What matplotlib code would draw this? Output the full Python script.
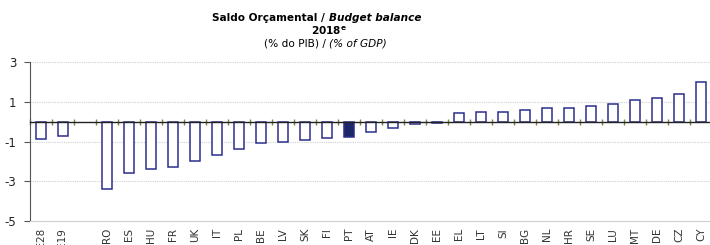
import numpy as np
import matplotlib
matplotlib.use('Agg')
import matplotlib.pyplot as plt
from matplotlib.ticker import FixedLocator

# 2018 budget balance, % of GDP
labels = ['UE28', 'AE19',
          'RO', 'ES', 'HU', 'FR', 'UK', 'IT', 'PL', 'BE', 'LV', 'SK', 'FI', 'PT',
          'AT', 'IE', 'DK', 'EE', 'EL', 'LT', 'SI', 'BG', 'NL', 'HR', 'SE', 'LU',
          'MT', 'DE', 'CZ', 'CY']
values = [-0.85, -0.7,
          -3.4, -2.6, -2.4, -2.3, -2.0, -1.7, -1.4, -1.1, -1.05, -0.9, -0.8, -0.78,
          -0.5, -0.3, -0.1, -0.05, 0.45, 0.5, 0.5, 0.6, 0.7, 0.7, 0.8, 0.9,
          1.1, 1.2, 1.4, 2.0]
highlight = 'PT'
yticks = [3, 1, -1, -3, -5]

edge = '#2b2f8c'
fill_hi = '#1c2768'

n = len(labels)
# one empty slot between the aggregates and the countries
pos = np.arange(n) + (np.arange(n) >= 2)

fig = plt.figure(figsize=(7.1, 2.45), dpi=100)
ax = fig.add_axes([30 / 710, 24 / 245, 680 / 710, 159 / 245])

# zero line with small boundary ticks, using the top spine
# (set before tick labels: moving a spine resets the ticks)
ax.spines['top'].set_position(('data', 0))
ax.spines['top'].set_color('#222222')
ax.spines['top'].set_linewidth(1.0)
ax.spines['top'].set_zorder(4)
ax.spines['bottom'].set_color('#d0d0d0')
ax.spines['right'].set_visible(False)
ax.spines['left'].set_color('#555555')

faces = [fill_hi if l == highlight else 'white' for l in labels]
ax.bar(pos, values, width=0.44, color=faces, edgecolor=edge, linewidth=1.1, zorder=3)

ax.set_ylim(-5, 3)
ax.set_xlim(-0.5, -0.5 + 680 / 22)
ax.set_yticks(yticks)
ax.set_yticklabels([str(t) for t in yticks])
ax.yaxis.grid(True, color='#d0d0d0', linewidth=0.8, linestyle=(0, (1, 1)))
ax.set_axisbelow(True)

ax.set_xticks(pos)
ax.set_xticklabels(labels)
ax.tick_params(axis='x', which='major', length=0, pad=5, labelrotation=90,
               labelsize=7.5, labelcolor='#333333')
ax.tick_params(axis='y', length=4, color='#555555', pad=6, labelcolor='#222222',
               labelsize=8.5)
ax.xaxis.set_minor_locator(FixedLocator(np.arange(-0.5, pos[-1] + 1, 1)))
ax.tick_params(axis='x', which='minor', bottom=False, top=True, direction='inout',
               length=4, color='#7f7f50', width=1.0)

cx = 329 / 710
fs = 7.6
fig.text(cx, 1 - 18 / 245, 'Saldo Orçamental / ', fontsize=fs, fontweight='bold',
         ha='right', va='center')
fig.text(cx, 1 - 18 / 245, 'Budget balance', fontsize=fs, fontweight='bold',
         style='italic', ha='left', va='center')
fig.text(cx, 1 - 31 / 245, '2018$^{\\mathregular{e}}$', fontsize=fs, fontweight='bold',
         ha='center', va='center')
fig.text(cx, 1 - 44 / 245, '(% do PIB) / ', fontsize=fs, ha='right', va='center')
fig.text(cx, 1 - 44 / 245, '(% of GDP)', fontsize=fs, style='italic', ha='left', va='center')

fig.savefig('out.png', dpi=100)
